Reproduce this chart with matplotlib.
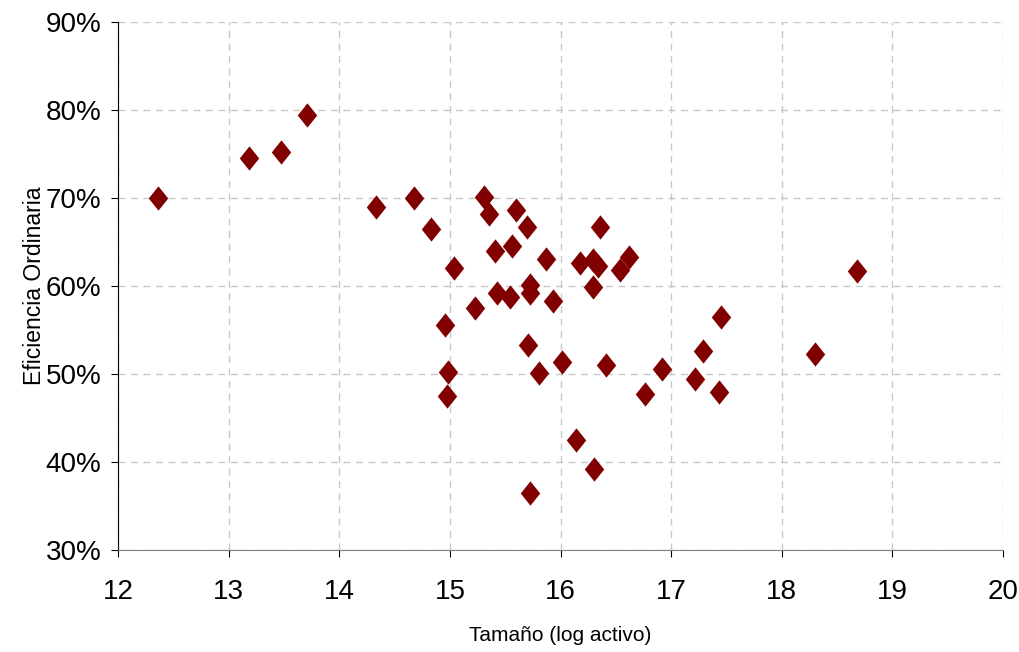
import matplotlib.pyplot as plt
from matplotlib.ticker import FuncFormatter

# Size (log of assets) vs ordinary efficiency
tamano = [12.36, 13.18, 13.47, 13.71, 14.33, 14.68, 14.83, 15.04, 14.96, 14.98,
          14.97, 15.23, 15.31, 15.35, 15.41, 15.43, 15.54, 15.56, 15.60, 15.70,
          15.72, 15.72, 15.71, 15.72, 15.81, 15.87, 15.93, 16.01, 16.14, 16.18,
          16.29, 16.34, 16.29, 16.36, 16.30, 16.41, 16.54, 16.62, 16.76, 16.92,
          17.22, 17.29, 17.43, 17.45, 18.30, 18.68]
eficiencia = [70.0, 74.5, 75.2, 79.4, 69.0, 70.0, 66.5, 62.0, 55.6, 50.2,
              47.5, 57.5, 70.1, 68.2, 64.0, 59.2, 58.8, 64.5, 68.6, 66.7,
              60.1, 59.2, 53.3, 36.5, 50.1, 63.1, 58.3, 51.4, 42.5, 62.6,
              63.0, 62.3, 59.9, 66.7, 39.2, 51.0, 61.8, 63.3, 47.7, 50.6,
              49.4, 52.6, 48.0, 56.5, 52.3, 61.7]

diamond = [(0, 1), (0.8, 0), (0, -1), (-0.8, 0), (0, 1)]

fig = plt.figure(figsize=(10.19, 6.52), dpi=100)
ax = fig.add_axes([0.1158, 0.1564, 0.8685, 0.8099])

ax.plot(tamano, eficiencia, linestyle='none', marker=diamond, markersize=17.5,
        color='#800000', markeredgewidth=0)

ax.set_xlim(12, 20)
ax.set_ylim(30, 90)
ax.set_xticks(range(12, 21))
ax.set_yticks(range(30, 91, 10))
ax.yaxis.set_major_formatter(FuncFormatter(lambda v, p: f'{v:.0f}%'))

ax.grid(True, color='#c8c8c8', linestyle=(0, (5, 4)), linewidth=1)
ax.set_axisbelow(True)
for s in ['top', 'right']:
    ax.spines[s].set_visible(False)
ax.spines['left'].set_color('black')
ax.spines['bottom'].set_color('#808080')
ax.tick_params(direction='out', length=5)
ax.tick_params(axis='x', pad=16)
ax.tick_params(axis='y', pad=7)
for lab in ax.get_xticklabels() + ax.get_yticklabels():
    lab.set_fontfamily('Liberation Sans')
    lab.set_fontsize(20)

ax.set_xlabel('Tamaño (log activo)', labelpad=15, family='Liberation Sans',
              fontsize=15)
ax.set_ylabel('Eficiencia Ordinaria', labelpad=0, family='Liberation Sans',
              fontsize=16.5)

fig.savefig('out.png', dpi=100)
